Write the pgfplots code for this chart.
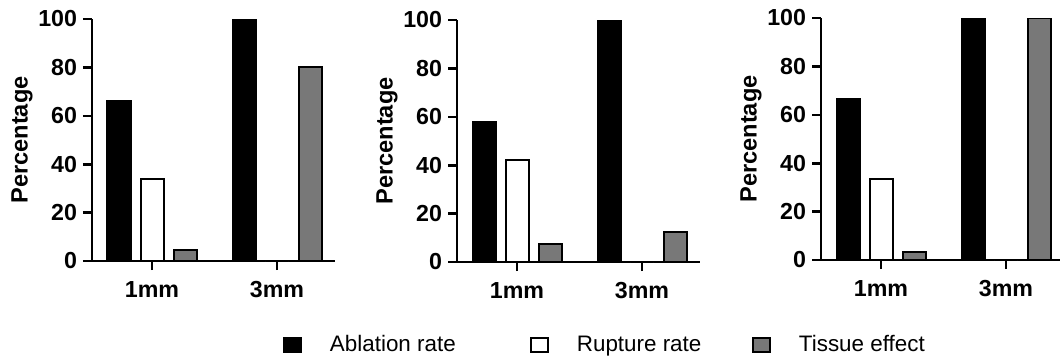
\documentclass[border=0pt]{standalone}
\usepackage{fontspec}
\setmainfont{Liberation Sans}
\usepackage{pgfplots}
\pgfplotsset{compat=1.18}
\definecolor{tissue}{RGB}{120,120,120}
\pgfplotsset{
  panel/.style={
    scale only axis, width=121.5pt, height=121pt,
    xmin=-0.48, xmax=1.464, ymin=0, ymax=100,
    axis lines=left, axis line style={-, line width=1.3pt, black},
    xtick={0,1}, xticklabels={1mm,3mm},
    ytick={0,20,...,100},
    tick align=outside, major tick length=4.5pt,
    tick style={line width=1.3pt, black},
    /pgf/number format/assume math mode=true,
    ticklabel style={font=\fontsize{11.6}{13}\selectfont\bfseries},
    yticklabel style={inner sep=2.8pt},
    xticklabel style={yshift=-2pt},
    ylabel={Percentage},
    ylabel style={font=\fontsize{11.8}{13}\selectfont\bfseries, at={(axis description cs:-0.288,0.5)}, anchor=center},
    ybar, bar width=0.184,
    legend image code/.code={\draw[#1, line width=0.9pt] (0pt,-3.6pt) rectangle (8.4pt,3.6pt);},
    legend style={draw=none, fill=none, inner sep=0pt, anchor=west,
      font=\fontsize{11.2}{13}\selectfont,
      nodes={inner sep=0pt},
      /tikz/every odd column/.append style={column sep=14pt}},
  },
  abl/.style={fill=black, draw=black, line width=1pt, bar shift=-0.264},
  rup/.style={fill=white, draw=black, line width=1pt, bar shift=0},
  tis/.style={fill=tissue, draw=black, line width=1pt, bar shift=0.264},
}
\begin{document}
\begin{tikzpicture}
\begin{axis}[panel, at={(0pt,0pt)}, anchor=south west,
  legend style={at={(axis description cs:0.786,-0.347)}}]
\addplot[abl] coordinates {(0,66) (1,100)};
\addlegendentry{Ablation rate}
\addplot[rup] coordinates {(0,34) (1,0)};
\addplot[tis] coordinates {(0,4.5) (1,80)};
\end{axis}
\begin{axis}[panel, at={(182.5pt,-0.5pt)}, anchor=south west,
  legend style={at={(axis description cs:0.300,-0.343)}}]
\addplot[abl, forget plot] coordinates {(0,57.7) (1,100)};
\addplot[rup] coordinates {(0,42.3) (1,0)};
\addlegendentry{Rupture rate}
\addplot[tis] coordinates {(0,7.5) (1,12.5)};
\end{axis}
\begin{axis}[panel, at={(364.5pt,0.5pt)}, anchor=south west,
  legend style={at={(axis description cs:-0.284,-0.351)}}]
\addplot[abl, forget plot] coordinates {(0,66.7) (1,100)};
\addplot[rup, forget plot] coordinates {(0,33.3) (1,0)};
\addplot[tis] coordinates {(0,3.3) (1,100)};
\addlegendentry{Tissue effect}
\end{axis}
\pgfresetboundingbox
\useasboundingbox (-46pt,-49pt) rectangle (484pt,130.5pt);
\end{tikzpicture}
\end{document}
